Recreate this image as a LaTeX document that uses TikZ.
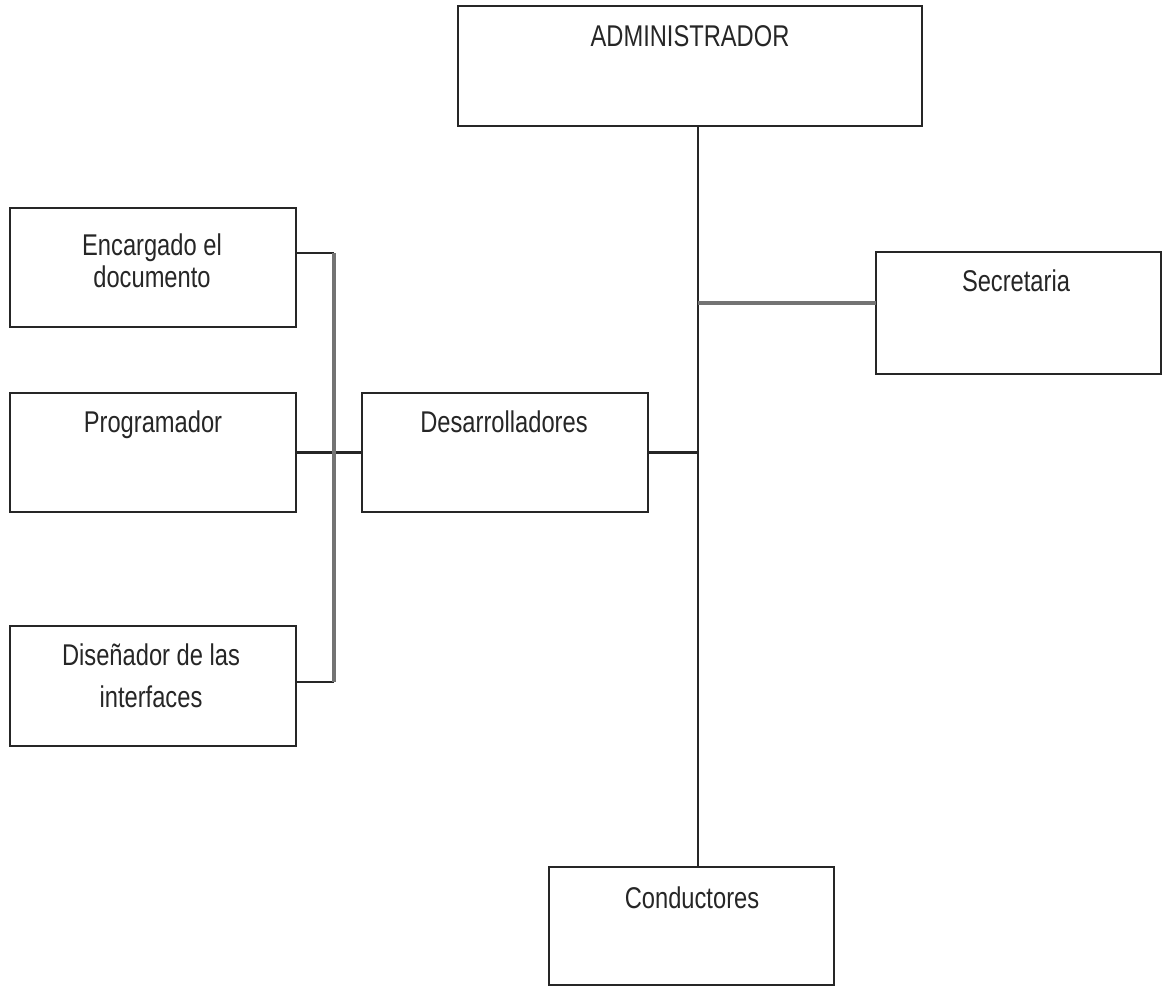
\documentclass[tikz,border=0pt]{standalone}
\usepackage{fontspec}
\setmainfont[FakeStretch=0.79]{Liberation Sans}
\begin{document}
\begin{tikzpicture}[x=1pt,y=-1pt,
  orgbox/.style={draw=black!85, line width=2.2pt, fill=white, inner sep=0pt, outer sep=0pt, anchor=north west},
  lbl/.style={anchor=base, inner sep=0pt, text=black!85, font=\fontsize{30}{36}\selectfont},
  conn/.style={draw=black!85, line width=2.2pt},
  gconn/.style={draw=black!55, line width=3.4pt}]
\useasboundingbox (0,0) rectangle (1163,986);

% boxes
\node[orgbox, minimum width=464pt, minimum height=120pt] (adm)  at (458,6) {};
\node[orgbox, minimum width=286pt, minimum height=119pt] (enc)  at (10,208) {};
\node[orgbox, minimum width=286pt, minimum height=119pt] (prog) at (10,393) {};
\node[orgbox, minimum width=286pt, minimum height=120pt] (dis)  at (10,626) {};
\node[orgbox, minimum width=286pt, minimum height=119pt] (des)  at (362,393) {};
\node[orgbox, minimum width=285pt, minimum height=122pt] (sec)  at (876,252) {};
\node[orgbox, minimum width=285pt, minimum height=118pt] (cond) at (549,867) {};

% labels
\node[lbl] (admT)  at (690,46)   {ADMINISTRADOR};
\node[lbl] (encT1) at (152,255)  {Encargado el};
\node[lbl] (encT2) at (152,287)  {documento};
\node[lbl] (progT) at (153,432)  {Programador};
\node[lbl] (desT)  at (504,432)  {Desarrolladores};
\node[lbl] (disT1) at (151,665)  {Diseñador de las};
\node[lbl] (disT2) at (151,707)  {interfaces};
\node[lbl] (secT)  at (1016,291) {Secretaria};
\node[lbl] (condT) at (692,908)  {Conductores};

% connector columns
\coordinate (spx) at (698,0);
\coordinate (bx)  at (334,0);

% main spine
\draw[conn] (adm.south -| spx) -- (cond.north -| spx);
\draw[gconn] (sec.west |- 0,303) -- (spx |- 0,303);
\draw[conn] (des.east) -- (spx |- des.east);

% developers group
\draw[conn] (prog.east) -- (des.west);
\draw[conn] (enc.east |- 0,253) -- (bx |- 0,253);
\draw[conn] (dis.east |- 0,682) -- (bx |- 0,682);
\draw[gconn] (bx |- 0,253) -- (bx |- 0,682);
\end{tikzpicture}
\end{document}
